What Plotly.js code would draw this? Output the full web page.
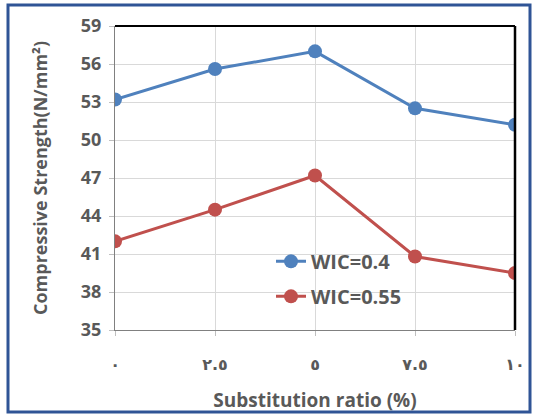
<!DOCTYPE html>
<html>
<head>
<meta charset="utf-8">
<script src="https://cdn.plot.ly/plotly-3.0.1.min.js"></script>
<style>
html,body{margin:0;padding:0;background:#fff;}
#chart{width:540px;height:419px;}
</style>
</head>
<body>
<div id="chart"></div>
<script>
const xValues = [0, 2.5, 5, 7.5, 10];
const xTickText = ['٠', '٢.٥', '٥', '٧.٥', '١٠'];
const seriesNames = ['WIC=0.4', 'WIC=0.55'];
const wc04 = [53.2, 55.6, 57.0, 52.5, 51.2];
const wc055 = [42.0, 44.5, 47.2, 40.8, 39.5];
const yTicks = [35, 38, 41, 44, 47, 50, 53, 56, 59];

const gray = '#595959';
const fam = 'Open Sans, sans-serif';

const traces = [
  {x: xValues, y: wc04, name: seriesNames[0], legendgroup: 'a', type: 'scatter', mode: 'lines+markers',
   line: {color: '#4F81BD', width: 3}, marker: {color: '#4F81BD', size: 14}},
  {x: xValues, y: wc055, name: seriesNames[1], legendgroup: 'b', type: 'scatter', mode: 'lines+markers',
   line: {color: '#C0504D', width: 3}, marker: {color: '#C0504D', size: 14}}
];

const layout = {
  width: 540, height: 419,
  margin: {l: 115, r: 25, t: 26, b: 89},
  paper_bgcolor: '#fff', plot_bgcolor: '#fff',
  font: {family: fam, size: 16, color: gray, weight: 700},
  showlegend: true,
  legend: {x: 0.39, y: 0.29, xanchor: 'left', yanchor: 'top', bgcolor: 'rgba(0,0,0,0)',
           font: {family: fam, size: 20, color: gray, weight: 700}, tracegroupgap: 6},
  xaxis: {
    range: [0, 10], tickvals: xValues, ticktext: xTickText,
    showgrid: true, gridcolor: '#D9D9D9', gridwidth: 1,
    showline: true, linecolor: '#808080', linewidth: 1,
    ticks: 'outside', ticklen: 5, tickcolor: '#BFBFBF',
    tickfont: {family: 'DejaVu Sans, sans-serif', size: 16, color: gray, weight: 700},
    ticklabelstandoff: 15,
    zeroline: false,
    title: {text: 'Substitution ratio (%)', font: {family: fam, size: 19, color: gray, weight: 700}, standoff: 20}
  },
  yaxis: {
    range: [35, 59], tickvals: yTicks,
    showgrid: true, gridcolor: '#D9D9D9', gridwidth: 1,
    showline: true, linecolor: '#808080', linewidth: 1,
    ticks: 'outside', ticklen: 5, tickcolor: '#BFBFBF',
    tickfont: {family: fam, size: 18, color: gray, weight: 700},
    ticklabelstandoff: 4,
    zeroline: false,
    title: {text: 'Compressive Strength(N/mm²)', font: {family: fam, size: 18, color: gray, weight: 700}, standoff: 28}
  },
  shapes: [
    {type: 'line', xref: 'paper', yref: 'paper', x0: 0, x1: 1, y0: 1, y1: 1, line: {color: '#000', width: 2}},
    {type: 'line', xref: 'paper', yref: 'paper', x0: 1, x1: 1, y0: 0, y1: 1, line: {color: '#000', width: 2.5}},
    {type: 'rect', xref: 'paper', yref: 'paper', x0: -0.2675, x1: 1.0375, y0: -0.27, y1: 1.069,
     line: {color: '#2F5496', width: 3}, fillcolor: 'rgba(0,0,0,0)'}
  ]
};

Plotly.newPlot('chart', traces, layout, {displayModeBar: false, responsive: false});
</script>
</body>
</html>
